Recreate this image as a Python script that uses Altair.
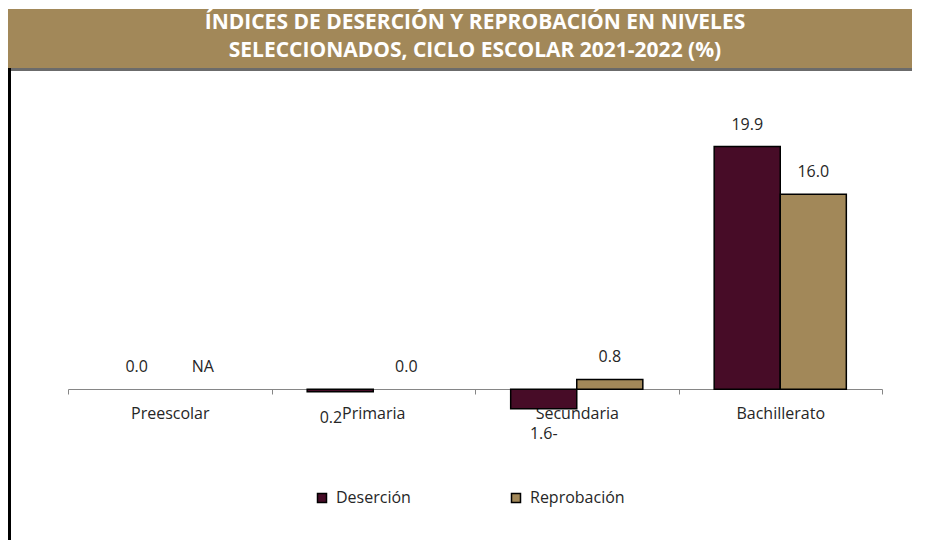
import altair as alt
import pandas as pd

niveles = ["Preescolar", "Primaria", "Secundaria", "Bachillerato"]
series = ["Deserción", "Reprobación"]
desercion = [0.0, -0.2, -1.6, 19.9]
reprobacion = [None, 0.0, 0.8, 16.0]
etiquetas_desercion = ["0.0", "0.2", "1.6-", "19.9"]
etiquetas_reprobacion = ["NA", "0.0", "0.8", "16.0"]
titulo = ["ÍNDICES DE DESERCIÓN Y REPROBACIÓN EN NIVELES",
          "SELECCIONADOS, CICLO ESCOLAR 2021-2022 (%)"]

colores = ["#470C27", "#A28859"]
FONT = "Open Sans"

rows = []
for i, n in enumerate(niveles):
    for s, vals, labs in ((series[0], desercion, etiquetas_desercion),
                          (series[1], reprobacion, etiquetas_reprobacion)):
        v = vals[i]
        rows.append({"nivel": n, "serie": s, "valor": v,
                     "pos": 0.0 if v is None else v, "etiqueta": labs[i]})
df = pd.DataFrame(rows)

W, H = 814, 317
X0, Y0 = 68, 121  # plot origin in page coords (page margin 8)
PR, PB = 30, 102

xenc = alt.X("nivel:N", sort=niveles,
             scale=alt.Scale(paddingInner=0, paddingOuter=0),
             axis=alt.Axis(title=None, labelAngle=0, offset=-49,
                           tickBand="extent", tickSize=5, tickColor="#868686",
                           domainColor="#868686", labelFont=FONT, labelFontSize=16,
                           labelColor="#262626", labelPadding=11, grid=False))
xoff = alt.XOffset("serie:N", sort=series,
                   scale=alt.Scale(paddingInner=0, paddingOuter=0.54))
yscale = alt.Scale(domain=[-4, 22], nice=False, zero=False)

base = alt.Chart(df)

bars = base.mark_bar(stroke="black", strokeWidth=1.5).encode(
    x=xenc,
    xOffset=xoff,
    y=alt.Y("valor:Q", scale=yscale, axis=None),
    y2=alt.datum(0),
    color=alt.Color("serie:N", sort=series,
                    scale=alt.Scale(domain=series, range=colores),
                    legend=alt.Legend(title=None, orient="none", direction="horizontal",
                                      legendX=246, legendY=369, symbolType="square",
                                      symbolSize=81, symbolStrokeColor="black",
                                      symbolStrokeWidth=1.5, labelFont=FONT,
                                      labelFontSize=16, labelColor="#262626",
                                      labelOffset=6, columnPadding=97)),
).transform_filter("datum.valor != null && datum.valor != 0")

def labels(flt, dy, align="center", dx=0):
    return base.transform_filter(flt).mark_text(
        font=FONT, fontSize=16, color="#262626", baseline="middle",
        dy=dy, dx=dx, align=align
    ).encode(x=alt.X("nivel:N", sort=niveles), xOffset=xoff,
             y=alt.Y("pos:Q", scale=yscale), text="etiqueta:N")

lab_pos = labels("datum.pos >= 0", -22)
lab_neg = labels("datum.pos <= -1", 25)
lab_neg_small = labels("datum.pos < 0 && datum.pos > -1", 26, align="right", dx=2)

deco = alt.Chart(alt.Data(values=[{}]))
band = deco.mark_rect(color="#A28859").encode(
    x=alt.value(5 - X0), x2=alt.value(930 - X0),
    y=alt.value(9 - Y0), y2=alt.value(68 - Y0))
grayline = deco.mark_rect(color="#6b6b6b").encode(
    x=alt.value(5 - X0), x2=alt.value(930 - X0),
    y=alt.value(68 - Y0), y2=alt.value(71 - Y0))
vline = deco.mark_rect(color="black").encode(
    x=alt.value(8 - X0), x2=alt.value(11 - X0),
    y=alt.value(68 - Y0), y2=alt.value(560 - Y0))

tdf = pd.DataFrame({"t": titulo, "k": [0, 1]})
tlines = []
for k, yy in ((0, 23), (1, 51)):
    tlines.append(alt.Chart(tdf).transform_filter(f"datum.k == {k}").mark_text(
        font=FONT, fontSize=21, fontWeight="bold", color="white",
        baseline="middle", align="center"
    ).encode(x=alt.value(475 - X0), y=alt.value(yy - Y0), text="t:N"))

chart = alt.layer(band, grayline, vline, *tlines, bars,
                  lab_pos, lab_neg, lab_neg_small).properties(
    width=W, height=H,
    autosize=alt.AutoSizeParams(type="none"),
    padding={"left": X0 - 8, "top": Y0 - 8, "right": PR, "bottom": PB},
    background="white",
).configure_view(stroke=None)

chart.save("out.html", embed_options={"renderer": "svg", "actions": False})
